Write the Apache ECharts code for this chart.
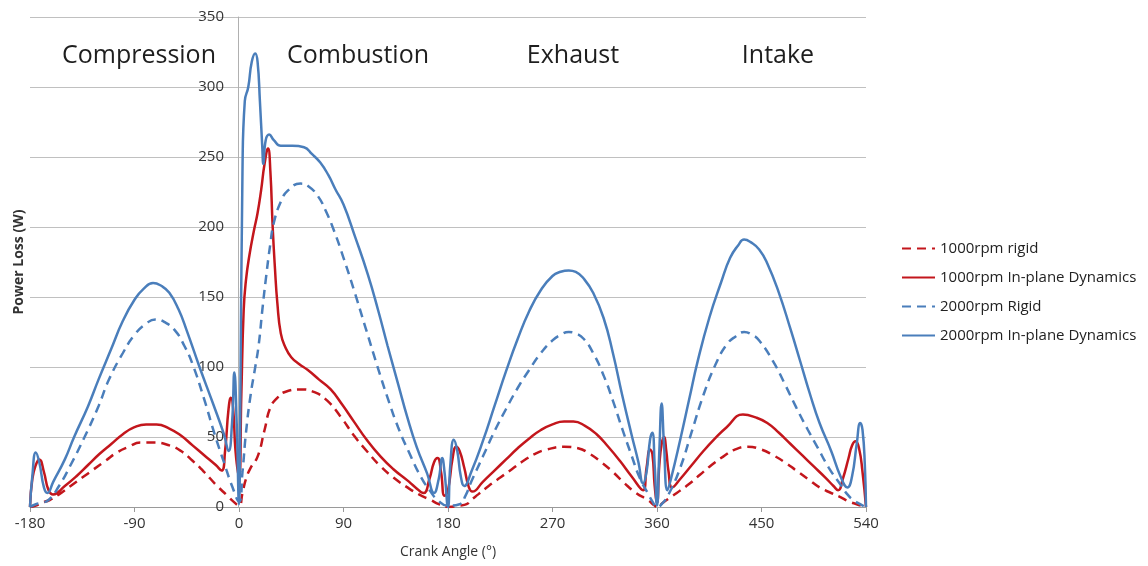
<!DOCTYPE html>
<html>
<head>
<meta charset="utf-8">
<script src="https://cdn.jsdelivr.net/npm/echarts@6/dist/echarts.min.js"></script>
<style>
  html, body { margin: 0; padding: 0; background: #fff; }
  #chart { width: 1148px; height: 566px; }
</style>
</head>
<body>
<div id="chart"></div>
<script>
// phase names shown across the top
const phases = ['Compression', 'Combustion', 'Exhaust', 'Intake'];
const seriesNames = ['1000rpm rigid', '1000rpm In-plane Dynamics', '2000rpm Rigid', '2000rpm In-plane Dynamics'];

// [crank angle, power loss]
const rigid1000 = [
	[-180,0],[-175,1],[-170,3],[-163,5],[-155,9],[-145,15],[-135,21],[-125,27],[-115,33],[-105,39],[-95,43],[-85,46],[-73,46],
	[-60,44],[-50,40],[-40,33],[-30,25],[-20,16],[-10,8],[-5,4],[0,1],[3,10],[6,20],[10,28],[16,36],[22,55],[27,71],[33,78],
	[39,82],[53,84],[65,82],[76,76],[88,64],[99,51],[110,40],[122,29],[133,21],[145,14],[155,9],[165,5],[172,2],[180,0],
	[190,1],[196,2],[200,5],[206,9],[215,15],[225,21],[235,27],[245,33],[255,38],[265,41],[280,43],[292,42],[302,38],
	[312,32],[322,25],[332,17],[342,10],[352,5],[358,1],[360,0],[365,3],[370,6],[377,10],[387,16],[397,23],[407,30],
	[417,36],[427,41],[438,43],[450,41],[460,37],[470,32],[480,26],[490,20],[500,14],[510,10],[518,7],[525,4],[532,2],[540,0]
];
const dyn1000 = [
	[-180,0],[-178,20],[-175,30],[-172,34],[-168,25],[-164,12],[-160,9],[-150,15],[-140,22],[-130,30],[-120,38],[-110,45],
	[-100,52],[-90,57],[-80,59],[-71,59],[-60,56],[-50,51],[-40,44],[-30,37],[-20,30],[-15,26],[-12,40],[-9,70],[-7,78],
	[-5,70],[-3,40],[0,21],[2,80],[4,140],[6,162],[9,180],[13,198],[16,210],[19,226],[22,245],[25,256],[27,240],[29,200],
	[31,170],[33,146],[36,124],[40,114],[45,107],[52,102],[59,98],[69,91],[79,84],[89,73],[99,61],[110,48],[122,36],
	[133,27],[145,19],[152,14],[159,10],[164,20],[168,32],[171,35],[174,25],[177,8],[180,12],[184,35],[187,43],[190,40],
	[194,28],[198,14],[201,11],[210,18],[220,26],[230,34],[240,42],[250,49],[260,55],[270,59],[280,61],[288,61],[298,58],
	[308,52],[318,43],[328,33],[338,22],[348,12],[351,28],[354,41],[356,38],[358,15],[360,3],[362,30],[364,45],[366,50],
	[368,40],[370,25],[373,14],[380,20],[390,30],[400,40],[410,49],[420,57],[434,66],[445,64],[455,60],[465,53],[475,45],
	[485,37],[495,29],[505,21],[512,15],[516,12],[520,20],[525,35],[528,44],[531,47],[534,42],[537,25],[540,0]
];
const rigid2000 = [
	[-180,0],[-175,2],[-170,3],[-164,5],[-155,15],[-145,30],[-133,50],[-121,72],[-112,91],[-100,110],[-90,123],[-80,131],
	[-72,134],[-64,132],[-55,126],[-47,115],[-40,102],[-30,77],[-21,52],[-13,32],[-6,15],[0,4],[3,25],[6,53],[10,80],[14,100],
	[17,116],[20,140],[23,162],[27,188],[30,203],[36,218],[42,226],[53,231],[60,229],[68,222],[75,211],[82,197],[90,178],
	[99,155],[109,128],[119,101],[128,78],[137,57],[147,38],[157,21],[165,11],[171,5],[180,1],[190,2],[195,8],[200,18],
	[210,36],[220,54],[230,70],[240,85],[250,98],[260,110],[270,119],[277,123],[284,125],[290,124],[297,120],[305,110],
	[314,94],[322,76],[330,56],[338,37],[345,21],[352,10],[356,4],[360,0],[365,3],[370,9],[380,28],[390,54],[400,80],
	[410,101],[420,116],[428,122],[435,125],[442,123],[448,119],[460,104],[470,88],[480,71],[490,55],[498,43],[508,28],
	[518,16],[524,9],[529,5],[535,2],[540,0]
];
const dyn2000 = [
	[-180,0],[-178,22],[-175,39],[-172,32],[-168,14],[-165,10],[-160,18],[-150,34],[-142,50],[-130,72],[-121,91],[-110,113],
	[-100,133],[-90,148],[-82,156],[-74,160],[-67,158],[-60,153],[-52,141],[-45,126],[-34,100],[-22,73],[-13,52],[-9,40],
	[-6,60],[-4,96],[-2,60],[0,2],[1,60],[3,240],[5,290],[8,300],[11,318],[14,324],[16,318],[18,290],[20,258],[21,245],
	[23,262],[26,266],[30,262],[36,258],[46,258],[56,257],[63,252],[70,246],[77,237],[83,227],[90,216],[100,193],[111,166],
	[120,140],[128,115],[137,88],[145,64],[153,43],[162,24],[168,10],[172,20],[175,35],[177,25],[180,0],[182,30],[185,48],
	[188,40],[191,22],[194,15],[200,25],[210,47],[220,72],[230,97],[240,120],[250,140],[260,155],[270,165],[277,168],
	[284,169],[290,168],[297,163],[305,153],[314,135],[322,110],[330,80],[338,52],[344,32],[348,17],[351,25],[354,48],
	[356,53],[358,30],[360,1],[362,40],[364,74],[366,45],[369,12],[372,20],[380,48],[388,78],[395,104],[405,135],[415,160],
	[423,178],[430,187],[435,191],[441,189],[448,184],[455,174],[465,153],[475,127],[483,105],[492,80],[500,60],[510,40],
	[518,22],[524,14],[528,22],[532,45],[535,60],[537,55],[539,30],[540,0]
];

const red = '#c3161c';
const blue = '#4a7ebb';
const fontFam = '"Open Sans", "Noto Sans", sans-serif';

let chart = echarts.init(document.getElementById('chart'));

const lineSeries = (name, data, color, dashed) => ({
	name: name,
	type: 'line',
	data: data,
	symbol: 'none',
	smooth: 0.5,
	lineStyle: { color: color, width: 2.5, type: dashed ? [9, 6] : 'solid' },
	itemStyle: { color: color }
});

const phaseX = [139, 358, 573, 778];

let option = {
	animation: false,
	backgroundColor: '#fff',
	grid: { left: 30, right: 282, top: 17, bottom: 59, containLabel: false, outerBoundsMode: 'none' },
	legend: {
		orient: 'vertical',
		left: 896,
		top: 236,
		itemWidth: 33,
		itemHeight: 14,
		itemGap: 14,
		data: seriesNames,
		// hide the marker circle, keep only the line sample
		itemStyle: { color: 'rgba(0,0,0,0)', borderWidth: 0, opacity: 0 },
		textStyle: { fontFamily: fontFam, fontSize: 15, color: '#222' }
	},
	xAxis: {
		type: 'value',
		min: -180,
		max: 540,
		interval: 90,
		name: 'Crank Angle (°)',
		nameLocation: 'middle',
		nameGap: 38,
		nameTextStyle: { fontFamily: fontFam, fontSize: 14, color: '#333' },
		axisLine: { onZero: false, lineStyle: { color: '#9a9a9a', width: 1 } },
		axisTick: { show: true, length: 5, lineStyle: { color: '#9a9a9a' } },
		axisLabel: { fontFamily: fontFam, fontSize: 15, color: '#333', margin: 9 },
		splitLine: { show: false }
	},
	yAxis: {
		type: 'value',
		position: 'left',
		// the axis crosses the x axis at 0 degrees
		offset: -208,
		min: 0,
		max: 350,
		interval: 50,
		name: 'Power Loss (W)',
		nameLocation: 'middle',
		nameGap: 212,
		nameTextStyle: { fontFamily: fontFam, fontSize: 14, fontWeight: 'bold', color: '#333' },
		axisLine: { show: true, onZero: false, lineStyle: { color: '#b0b0b0', width: 1 } },
		axisTick: { show: false },
		axisLabel: { fontFamily: fontFam, fontSize: 15, color: '#333', margin: 14 },
		splitLine: { show: true, lineStyle: { color: '#c0c0c0', width: 1 } }
	},
	graphic: phases.map((p, i) => ({
		type: 'text',
		x: phaseX[i],
		y: 56,
		style: {
			text: p,
			fill: '#1e1e1e',
			font: '25px ' + fontFam,
			align: 'center',
			verticalAlign: 'middle'
		}
	})),
	series: [
		lineSeries(seriesNames[0], rigid1000, red, true),
		lineSeries(seriesNames[1], dyn1000, red, false),
		lineSeries(seriesNames[2], rigid2000, blue, true),
		lineSeries(seriesNames[3], dyn2000, blue, false)
	]
};

chart.setOption(option);
</script>
</body>
</html>
